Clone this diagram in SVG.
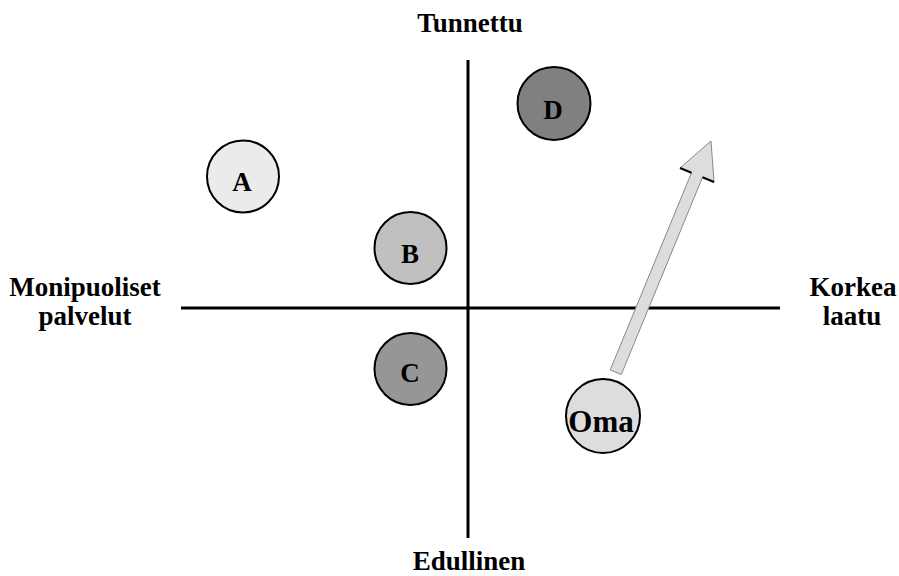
<svg xmlns="http://www.w3.org/2000/svg" width="899" height="576" viewBox="0 0 899 576">
<style>
text{font-family:"Liberation Serif","Times New Roman",serif;font-weight:bold;fill:#000;text-anchor:middle}
.lbl{font-size:27px}
.axis{stroke:#000;stroke-width:3;fill:none}
.node{stroke:#000;stroke-width:2}
</style>
<rect width="899" height="576" fill="#fff"/>
<g id="axes">
<line class="axis" x1="181" y1="308" x2="780" y2="308"/>
<line class="axis" x1="468" y1="60" x2="468" y2="538"/>
</g>
<g id="axis-labels">
<text class="lbl" x="470" y="32">Tunnettu</text>
<text class="lbl" x="469" y="570">Edullinen</text>
<text class="lbl" x="85" y="296">Monipuoliset</text>
<text class="lbl" x="85" y="325">palvelut</text>
<text class="lbl" x="853" y="296">Korkea</text>
<text class="lbl" x="852" y="325">laatu</text>
</g>
<g id="connectors">
<polygon points="711,141 714,182 702.5,177.3 621.3,374.5 610.2,370 691.5,172.7 680,168" fill="#dddddd" stroke="#888" stroke-width="1"/>
<polyline points="680,168 691.5,172.7" stroke="#000" stroke-width="2" fill="none"/>
<polyline points="702.5,177.3 714,182" stroke="#000" stroke-width="2" fill="none"/>
</g>
<g id="node-A">
<circle class="node" cx="243" cy="176.5" r="36" fill="#ebebeb"/>
<text class="lbl" x="242" y="191">A</text>
</g>
<g id="node-B">
<circle class="node" cx="410.5" cy="248" r="36" fill="#c0c0c0"/>
<text class="lbl" x="410" y="263">B</text>
</g>
<g id="node-C">
<circle class="node" cx="410.5" cy="369" r="36" fill="#969696"/>
<text class="lbl" x="410" y="382">C</text>
</g>
<g id="node-D">
<circle class="node" cx="554" cy="103.5" r="36.5" fill="#808080"/>
<text class="lbl" x="553" y="119">D</text>
</g>
<g id="node-Oma">
<circle class="node" cx="603" cy="416" r="37" fill="#dddddd"/>
<text x="601" y="432" style="font-size:31px">Oma</text>
</g>
</svg>
